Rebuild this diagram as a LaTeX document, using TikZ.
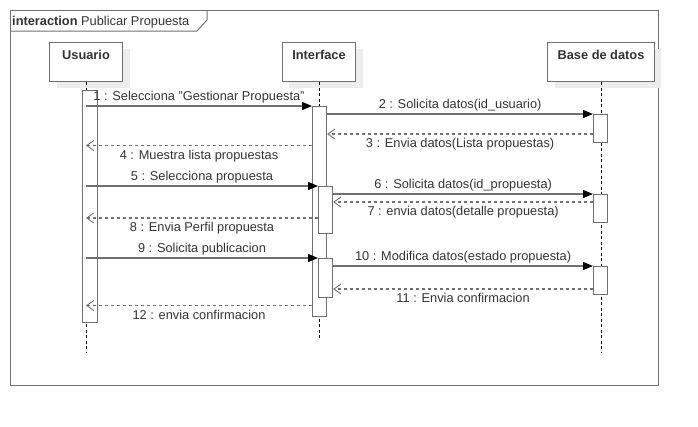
\documentclass[tikz,border=0pt]{standalone}
\usepackage{fontspec}
\setmainfont{Liberation Sans}
\usetikzlibrary{shadows,arrows.meta}

\definecolor{linegray}{RGB}{112,112,112}
\definecolor{textgray}{RGB}{51,51,51}

\begin{document}
\begin{tikzpicture}[x=1pt,y=-1pt,font=\fontsize{12.8}{15}\selectfont]
    \tikzset{
        Head/.style = {draw=linegray, line width=1.2pt, fill=white, anchor=north,
            minimum width=73pt, inner xsep=10pt, inner ysep=4pt,
            text height=12.5pt, text depth=18.5pt, text=textgray,
            font=\fontsize{12.8}{15}\selectfont\bfseries,
            drop shadow={shadow xshift=7pt, shadow yshift=-6pt, fill=black!7, opacity=1}},
        Life/.style = {line width=0.8pt, dash pattern=on 3pt off 2.5pt},
        Act/.style = {draw=linegray, line width=1.2pt, fill=white, anchor=north west,
            minimum width=14pt, inner sep=0pt},
        Call/.style = {draw=linegray, line width=1.2pt,
            -{Triangle[length=10pt,width=8pt,color=black]}},
        Reply/.style = {draw=linegray, line width=1.2pt, dash pattern=on 3pt off 3pt,
            -{Straight Barb[length=7pt,width=10pt,line width=0.9pt]}},
        Msg/.style = {text=textgray, inner sep=2pt}
    }
    \useasboundingbox (0,0) rectangle (698,426);

    \node[draw=linegray, line width=1.2pt, anchor=north west, inner sep=0pt,
        minimum width=648pt, minimum height=375pt] (frame) at (10,10) {};
    \node[anchor=base west, inner sep=0pt, text=textgray] (title) at (12,25.5)
        {\textbf{interaction} Publicar Propuesta};
    \draw[linegray, line width=1pt] (frame.north west |- 0,31) -- (197,31) -- (207,20) -- (frame.north west -| 207,0);

    \node[Head] (usuario) at (86,42) {Usuario};
    \node[Head] (interface) at (319,42) {Interface};
    \node[Head] (base) at (601,42) {Base de datos};

    \coordinate (usuarioEnd) at (86,353);
    \coordinate (interfaceEnd) at (319,340);
    \coordinate (baseEnd) at (601,353);
    \draw[Life] (usuario) -- (usuarioEnd);
    \draw[Life] (interface) -- (interfaceEnd);
    \draw[Life] (base) -- (baseEnd);

    \node[Act, minimum width=15pt, minimum height=232pt] (actUsuario) at (82,90) {};
    \node[Act, minimum height=210pt] (actInterface) at (312,106) {};
    \node[Act, minimum height=47pt] (actInterfaceA) at (318,186) {};
    \node[Act, minimum height=39pt] (actInterfaceB) at (318,258) {};
    \node[Act, minimum height=28pt] (actBaseA) at (593,114) {};
    \node[Act, minimum height=28pt] (actBaseB) at (593,194) {};
    \node[Act, minimum height=28pt] (actBaseC) at (593,266) {};

    \draw[Call] (usuario |- actInterface.north) -- (actInterface.north west)
        node[Msg, midway, above] {1 : Selecciona "Gestionar Propuesta"};
    \draw[Call] (actInterface.east |- actBaseA.north) -- (actBaseA.north west)
        node[Msg, midway, above] {2 : Solicita datos(id\_usuario)};
    \draw[Reply] ([yshift=-20pt]actBaseA.north west) -- (actInterface.east |- 0,134)
        node[Msg, midway, below=2pt] {3 : Envia datos(Lista propuestas)};
    \draw[Reply] (actInterface.west |- 0,145.5) -- (usuario |- 0,145.5)
        node[Msg, midway, below=2pt] {4 : Muestra lista propuestas};
    \draw[Call] (usuario |- actInterfaceA.north) -- (actInterfaceA.north west)
        node[Msg, midway, above] {5 : Selecciona propuesta};
    \draw[Call] (actInterfaceA.east |- actBaseB.north) -- (actBaseB.north west)
        node[Msg, midway, above] {6 : Solicita datos(id\_propuesta)};
    \draw[Reply] ([yshift=-8pt]actBaseB.north west) -- (actInterfaceA.east |- 0,202)
        node[Msg, midway, below=2pt] {7 : envia datos(detalle propuesta)};
    \draw[Reply] (actInterfaceA.west |- 0,218) -- (usuario |- 0,218)
        node[Msg, midway, below=2pt] {8 : Envia Perfil propuesta};
    \draw[Call] (usuario |- actInterfaceB.north) -- (actInterfaceB.north west)
        node[Msg, midway, above] {9 : Solicita publicacion};
    \draw[Call] (actInterfaceB.east |- actBaseC.north) -- (actBaseC.north west)
        node[Msg, midway, above] {10 : Modifica datos(estado propuesta)};
    \draw[Reply] ([yshift=-23pt]actBaseC.north west) -- (actInterfaceB.east |- 0,289)
        node[Msg, midway, below=2pt] {11 : Envia confirmacion};
    \draw[Reply] (actInterface.west |- 0,305.5) -- (usuario |- 0,305.5)
        node[Msg, midway, below=2pt] {12 : envia confirmacion};
\end{tikzpicture}
\end{document}
